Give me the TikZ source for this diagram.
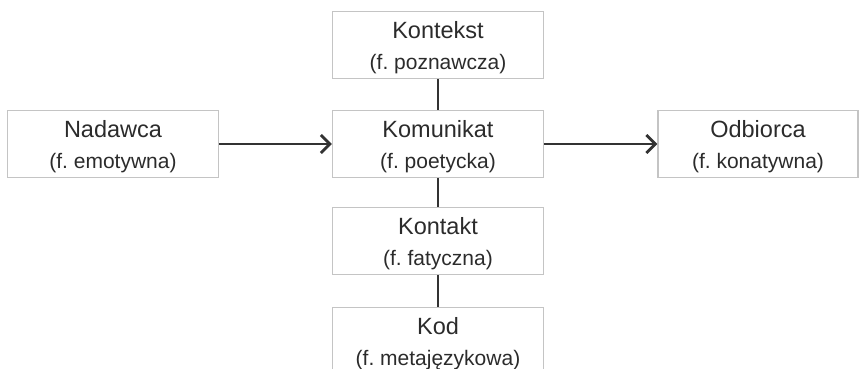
\documentclass[tikz,border=0pt]{standalone}
\usepackage{fontspec}
\setmainfont{Liberation Sans}
\usetikzlibrary{positioning, arrows.meta}
\definecolor{boxgray}{HTML}{C4C4C4}
\definecolor{linegray}{HTML}{333333}
\definecolor{textgray}{HTML}{2B2B2B}
\frenchspacing
\newcommand{\fn}[2]{\rule{0pt}{22pt}#1\\[3pt]{\fontsize{21}{28}\selectfont #2}}

\begin{document}
\begin{tikzpicture}[
        x=1pt,
        y=-1pt,
        every node/.style={font=\fontsize{23.5}{28}\selectfont, text=textgray},
        fbox/.style={draw=boxgray, line width=1.4pt, align=center,
            minimum width=211pt, minimum height=67pt, inner sep=0pt},
        link/.style={draw=linegray, line width=2.6pt},
        flow/.style={draw=linegray, line width=2.4pt,
            -{Straight Barb[length=9pt, width=18pt, line width=2.8pt]}}
    ]
    \useasboundingbox (0,0) rectangle (859,369);

    \node[fbox] (kontekst) at (438,45) {\fn{Kontekst}{(f. poznawcza)}};
    \node[fbox] (komunikat) at (438,144) {\fn{Komunikat}{(f. poetycka)}};
    \node[fbox] (nadawca) at (113,144) {\fn{Nadawca}{(f. emotywna)}};
    \node[fbox, minimum width=200pt] (odbiorca) at (758,144) {\fn{Odbiorca}{(f. konatywna)}};
    \node[fbox] (kontakt) at (438,241) {\fn{Kontakt}{(f. fatyczna)}};
    \node[fbox] (kod) at (438,341) {\fn{Kod}{(f. metajęzykowa)}};

    \draw[link] (kontekst) -- (komunikat);
    \draw[link] (komunikat) -- (kontakt);
    \draw[link] (kontakt) -- (kod);
    \draw[flow] (nadawca) -- (komunikat);
    \draw[flow] (komunikat) -- (odbiorca);
\end{tikzpicture}
\end{document}
